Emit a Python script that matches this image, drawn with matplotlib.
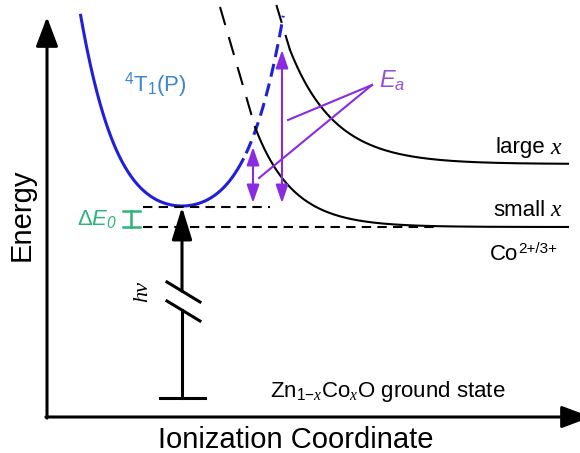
import matplotlib
matplotlib.use("Agg")
import matplotlib.pyplot as plt
import numpy as np

plt.rcParams["font.family"] = ["Liberation Sans", "DejaVu Sans"]
plt.rcParams["mathtext.fontset"] = "custom"
plt.rcParams["mathtext.rm"] = "Liberation Sans"
plt.rcParams["mathtext.it"] = "Liberation Serif:italic"
plt.rcParams["mathtext.sf"] = "Liberation Sans:italic"

BLUE = "#1f1fdc"
BLUE_TXT = "#3b87cc"
PURPLE = "#8a2be2"
PURPLE_TXT = "#9650d8"
GREEN = "#2db47a"

# schematic units: q = ionization coordinate, E = energy (arbitrary)
ORIGIN = (47, 36)
AXIS_TIP = (591, 436)
Q_GS, E_GS = 182, 55          # ground-state position / bar level
E_EXC = 247                   # bottom of the 4T1(P) well
WELL_K = (0.009, 9.3e-7)      # quadratic + quartic stiffness
WELL_SOLID_END = 243
E_TOP = 438

# Co2+/3+ charge-transfer curves: small x, large x
CT_NAMES = ["small", "large"]
CT_LEVEL = [226, 289]
CT_START = [255, 290]
CT_HEIGHT = [100, 114]
CT_DECAY = [38, 45]
CT_DASH_TOP = [446, 448]
CT_DASH_SLOPE = [3.43, 3.3]
CT_END = 568

# thermal barriers E_a
EA_Q = [253, 282]
EA_TOP = [306, 403]
EA_BOTTOM = 250
EA_LEADER_E = [275, 333]
EA_LABEL = (372, 368)

# break in the h-nu arrow
HV_GAP = (143, 162)


def well(q):
    dq = q - Q_GS
    return E_EXC + WELL_K[0] * dq**2 + WELL_K[1] * dq**4


fig = plt.figure(figsize=(5.8, 4.53), dpi=100)
ax = fig.add_axes([0, 0, 1, 1])
ax.set_xlim(0, 580)
ax.set_ylim(0, 453)
ax.set_axis_off()

# axes with arrow heads
axis_style = dict(arrowstyle="-|>,head_length=1.8,head_width=0.68",
                  mutation_scale=10, lw=2.2, color="k", shrinkA=0, shrinkB=0)
ax.annotate("", xy=(ORIGIN[0], AXIS_TIP[1]), xytext=(ORIGIN[0], ORIGIN[1] - 1.1),
            arrowprops=axis_style, annotation_clip=False)
ax.annotate("", xy=(AXIS_TIP[0], ORIGIN[1]), xytext=(ORIGIN[0] - 1.1, ORIGIN[1]),
            arrowprops=axis_style, annotation_clip=False)
ax.text(22, 238, "Energy", rotation=90, fontsize=21, ha="center", va="center")
ax.text(296, 5, "Ionization Coordinate", fontsize=21, ha="center", va="baseline")

# 4T1(P) well
q = np.linspace(60, WELL_SOLID_END, 400)
e = well(q)
ax.plot(q[e <= E_TOP], e[e <= E_TOP], color=BLUE, lw=2.2)
q = np.linspace(WELL_SOLID_END, 300, 400)
e = well(q)
ax.plot(q[e <= E_TOP], e[e <= E_TOP], color=BLUE, lw=2.2, ls=(4.3, (4.3, 2.3)))
ax.text(155, 368, r"$^4$T$_1$(P)", color=BLUE_TXT, fontsize=16, ha="center", va="center")

# charge-transfer curves
for name, lvl, q0, h0, L, top, slope in zip(CT_NAMES, CT_LEVEL, CT_START, CT_HEIGHT,
                                            CT_DECAY, CT_DASH_TOP, CT_DASH_SLOPE):
    qq = np.linspace(q0, CT_END, 300)
    ax.plot(qq, lvl + h0 * np.exp(-(qq - q0) / L), color="k", lw=1.5)
    q_top = q0 - (top - lvl - h0) / slope
    ax.plot([q_top, q0], [top, lvl + h0], color="k", lw=1.5, ls=(0, (9, 6)))
    ax.text(545, lvl + 16, name, fontsize=16, ha="right", va="center")
    ax.text(550, lvl + 16, "x", fontsize=17, ha="left", va="center",
            family="Liberation Serif", style="italic")
ax.text(518, CT_LEVEL[0] - 28, "Co", fontsize=16, ha="right", va="center")
ax.text(518, CT_LEVEL[0] - 22, "2+/3+", fontsize=11, ha="left", va="center")

# reference levels
ax.plot([143, 270], [E_EXC - 1, E_EXC - 1], color="k", lw=1.5, ls=(0, (4.5, 3)))
ax.plot([143, 437], [CT_LEVEL[0], CT_LEVEL[0]], color="k", lw=1.5, ls=(0, (4.5, 3)))

# Delta E0 bracket
ax.plot([131, 131], [CT_LEVEL[0], E_EXC - 5], color=GREEN, lw=1.8)
for lv in (CT_LEVEL[0], E_EXC - 5):
    ax.plot([123, 140], [lv, lv], color=GREEN, lw=1.8)
ax.text(117, 234, r"$\Delta\mathsf{E}_\mathsf{0}$", color=GREEN, fontsize=16,
        ha="right", va="center")

# h-nu excitation with broken shaft
ax.plot([Q_GS - 22, Q_GS + 23], [E_GS, E_GS], color="k", lw=2.2)
ax.plot([Q_GS, Q_GS], [E_GS, HV_GAP[0]], color="k", lw=2.2)
ax.annotate("", xy=(Q_GS, E_EXC - 1), xytext=(Q_GS, HV_GAP[1]),
            arrowprops=dict(arrowstyle="-|>,head_length=2.0,head_width=0.62",
                            mutation_scale=10, lw=2.2, color="k",
                            shrinkA=0, shrinkB=0))
for ec in HV_GAP:
    ax.plot([Q_GS - 15, Q_GS + 18], [ec + 9, ec - 11], color="k", lw=2.2)
ax.text(143, 161, "hv", rotation=90, fontsize=16, ha="center", va="center",
        family="Liberation Serif", style="italic")

# activation barriers
ea_style = dict(arrowstyle="<|-|>,head_length=1.1,head_width=0.38",
                mutation_scale=10, lw=1.5, color=PURPLE, shrinkA=0, shrinkB=0)
for qa, top, le in zip(EA_Q, EA_TOP, EA_LEADER_E):
    ax.annotate("", xy=(qa, top), xytext=(qa, EA_BOTTOM), arrowprops=ea_style)
    ax.plot([qa + 6, EA_LABEL[0]], [le, EA_LABEL[1]], color=PURPLE, lw=1.5)
ax.text(379, 372, r"$\mathsf{E}_\mathsf{a}$", color=PURPLE_TXT, fontsize=17,
        ha="left", va="center")

ax.text(388, 62, r"Zn$_{1\mathrm{-}x}$Co$_x$O ground state", fontsize=16,
        ha="center", va="center")

fig.savefig("out.png", dpi=100)
